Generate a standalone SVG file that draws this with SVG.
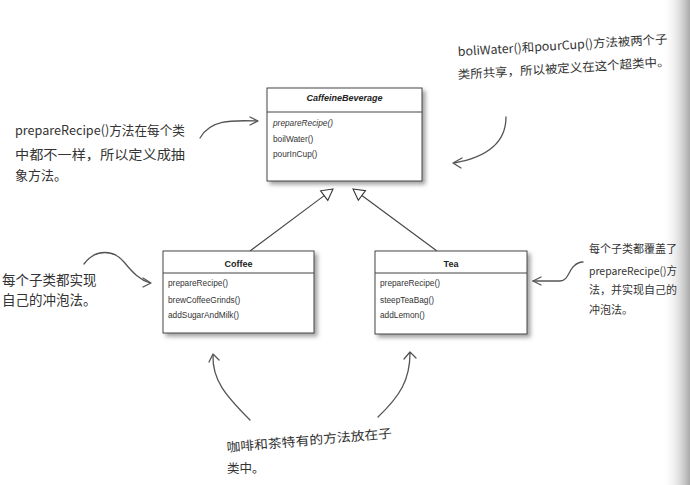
<svg xmlns="http://www.w3.org/2000/svg" width="690" height="485" viewBox="0 0 690 485">
<style>
.box{fill:#fff;stroke:#444;stroke-width:1}
.sep{stroke:#444;stroke-width:1}
.ttl{font-family:"Liberation Sans",Arial,sans-serif;font-size:9px;font-weight:bold;fill:#222;text-anchor:middle}
.m{font-family:"Liberation Sans",Arial,sans-serif;font-size:8.3px;fill:#333}
.note{font-family:"Noto Sans CJK SC",sans-serif;fill:#333}
.conn{fill:none;stroke:#444;stroke-width:1.1}
.gen{fill:#fff;stroke:#333;stroke-width:1.1}
.hand{fill:none;stroke:#555;stroke-width:1.3;stroke-linecap:round;stroke-linejoin:round}
</style>
<defs>
<filter id="sh" x="-10%" y="-10%" width="130%" height="140%">
<feDropShadow dx="3" dy="3" stdDeviation="2" flood-color="#777" flood-opacity="0.7"/>
</filter>
<linearGradient id="edge" x1="0" y1="0" x2="1" y2="0">
<stop offset="0" stop-color="#fff" stop-opacity="0"/>
<stop offset="1" stop-color="#a8a8a8"/>
</linearGradient>
</defs>
<rect width="690" height="485" fill="#fff"/>
<rect x="662" y="0" width="28" height="485" fill="url(#edge)"/>

<g id="connectors">
<line class="conn" x1="250" y1="251" x2="324.2" y2="195.6"/>
<polygon class="gen" points="333,189 320.6,190.8 327.8,200.4"/>
<line class="conn" x1="437" y1="251" x2="361.9" y2="195.5"/>
<polygon class="gen" points="353,189 365.5,190.7 358.3,200.3"/>
</g>

<g id="CaffeineBeverage">
<rect class="box" x="267" y="88" width="155" height="93" filter="url(#sh)"/>
<line class="sep" x1="267" y1="112" x2="422" y2="112"/>
<text class="ttl" x="344.5" y="101" font-style="italic">CaffeineBeverage</text>
<text class="m" x="273" y="126" font-style="italic">prepareRecipe()</text>
<text class="m" x="273" y="142">boilWater()</text>
<text class="m" x="273" y="157">pourInCup()</text>
</g>

<g id="Coffee">
<rect class="box" x="163" y="251" width="151" height="82" filter="url(#sh)"/>
<line class="sep" x1="163" y1="273" x2="314" y2="273"/>
<text class="ttl" x="238.5" y="267">Coffee</text>
<text class="m" x="168" y="286">prepareRecipe()</text>
<text class="m" x="168" y="303">brewCoffeeGrinds()</text>
<text class="m" x="168" y="318">addSugarAndMilk()</text>
</g>

<g id="Tea">
<rect class="box" x="375" y="251" width="152" height="83" filter="url(#sh)"/>
<line class="sep" x1="375" y1="273" x2="527" y2="273"/>
<text class="ttl" x="451" y="267">Tea</text>
<text class="m" x="380" y="286">prepareRecipe()</text>
<text class="m" x="380" y="303">steepTeaBag()</text>
<text class="m" x="380" y="318">addLemon()</text>
</g>

<g id="note-shared">
<text class="note" font-size="12" x="458" y="56" textLength="210" lengthAdjust="spacingAndGlyphs" transform="rotate(-3.5 458 56)">boliWater()和pourCup()方法被两个子</text>
<text class="note" font-size="12" x="458" y="79" textLength="212" lengthAdjust="spacingAndGlyphs" transform="rotate(-3.5 458 79)">类所共享，所以被定义在这个超类中。</text>
<path class="hand" d="M506,117 C506,142 488,157 454,163"/>
<path class="hand" d="M462,158 L453,163 L461,168"/>
</g>

<g id="note-abstract">
<text class="note" font-size="13" x="15" y="135" textLength="170" lengthAdjust="spacingAndGlyphs">prepareRecipe()方法在每个类</text>
<text class="note" font-size="13" x="15" y="159" textLength="170" lengthAdjust="spacingAndGlyphs">中都不一样，所以定义成抽</text>
<text class="note" font-size="13" x="15" y="180">象方法。</text>
<path class="hand" d="M200,138 C210,120 230,120 257,121"/>
<path class="hand" d="M250,117 L258,121 L250,125"/>
</g>

<g id="note-subclass">
<text class="note" font-size="13.5" x="2" y="285">每个子类都实现</text>
<text class="note" font-size="13.5" x="2" y="305">自己的冲泡法。</text>
<path class="hand" d="M84,264 C96,248 114,250 124,262 C133,273 140,280 150,283"/>
<path class="hand" d="M143,278 L151,283 L143,287"/>
</g>

<g id="note-override">
<text class="note" font-size="11" x="589" y="253">每个子类都覆盖了</text>
<text class="note" font-size="11" x="589" y="275" textLength="88" lengthAdjust="spacingAndGlyphs">prepareRecipe()方</text>
<text class="note" font-size="11" x="589" y="294">法，并实现自己的</text>
<text class="note" font-size="11" x="589" y="314">冲泡法。</text>
<path class="hand" d="M533,281 L560,281 C568,281 569,270 574,266 C577,263 580,262 583,262"/>
<path class="hand" d="M541,277 L533,281 L541,285"/>
</g>

<g id="note-specific">
<text class="note" font-size="12.5" x="227" y="452" textLength="166" lengthAdjust="spacingAndGlyphs" transform="rotate(-5 227 452)">咖啡和茶特有的方法放在子</text>
<text class="note" font-size="12.5" x="227" y="473">类中。</text>
<path class="hand" d="M250,420 C226,396 212,380 213,355"/>
<path class="hand" d="M209,362 L213,354 L219,360"/>
<path class="hand" d="M378,417 C400,396 410,380 410,353"/>
<path class="hand" d="M404,359 L410,352 L416,358"/>
</g>
</svg>
